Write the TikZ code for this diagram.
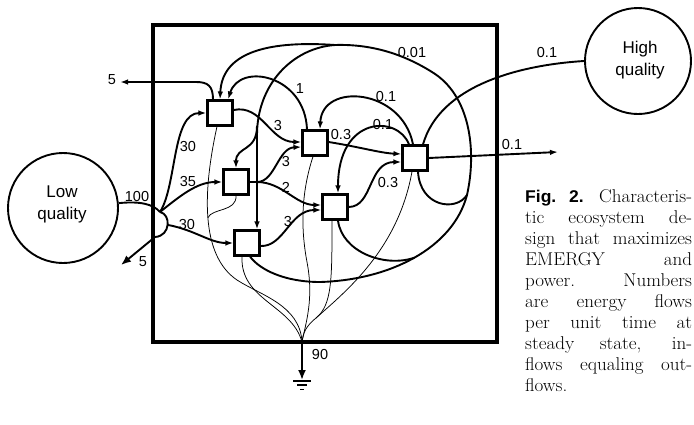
\documentclass[tikz,border=0pt]{standalone}
\usepackage{fontspec}
\usepackage{graphicx}
\newfontfamily\lsans{Liberation Sans}
\usetikzlibrary{arrows.meta}
\newcommand{\capline}[1]{\scalebox{1.03}[1]{\makebox[162pt][s]{#1}}}
\begin{document}
\begin{tikzpicture}[x=1pt,y=-1pt,
  flow/.style={line width=1.9pt},
  thinflow/.style={line width=0.75pt},
  arr/.style={-{Latex[length=8pt,width=5.5pt]}},
  bigarr/.style={-{Latex[length=10pt,width=8pt]}},
  box/.style={draw,line width=2.6pt,minimum size=24.5pt,inner sep=0pt},
  src/.style={draw,circle,line width=1.9pt,inner sep=0pt},
  srctext/.style={font=\lsans\fontsize{17}{22}\selectfont,align=center,inner sep=0pt},
  lab/.style={font=\lsans\fontsize{14.5}{14.5}\selectfont,inner sep=0pt},
  captext/.style={anchor=base west,inner sep=0pt,font=\fontsize{18.5}{21}\selectfont}]
\useasboundingbox (0,0) rectangle (694,424);

% frame
\draw[line width=3.6pt] (153,25) rectangle (497,342);

% sources
\node[src,minimum size=110pt] (Low) at (63,208) {};
\node[srctext] (LowT) at (62,204) {Low\\quality};
\node[src,minimum size=106pt] (HQ) at (638,61) {};
\node[srctext] (HQT) at (640,60) {High\\quality};

% units
\node[box] (A) at (220,113) {};
\node[box] (B) at (236,182) {};
\node[box] (C) at (247,243) {};
\node[box] (D) at (315,143) {};
\node[box] (E) at (335,207) {};
\node[box] (F) at (415,158) {};

% named coordinates
\coordinate (J) at (160,212);
\coordinate (L) at (155,237);
\coordinate (O5a) at (120,82);
\coordinate (O5b) at (121,265);
\coordinate (T) at (335,45);
\coordinate (V) at (257,135);
\coordinate (Vb) at (257,126);
\coordinate (Bj) at (257,182);
\coordinate (R) at (467,195);
\coordinate (M) at (320,282);
\coordinate (Fout) at (558,152);
\coordinate (S) at (302,342);
\coordinate (G) at (302,380);
\coordinate (Aa) at (237,280);
\coordinate (Dm) at (307,262);
\coordinate (Em) at (316,318);

% low quality inflow and split
\draw[flow] (Low.5) .. controls (140,201) and (153,204) .. (J);
\draw[flow] (J) .. controls (171,214) and (171,236) .. (L) coordinate[pos=0.5] (K);
\draw[flow,arr] (J) .. controls (177,185) and (172,113) .. (A.west);
\draw[flow,arr] (J) .. controls (180,196) and (197,182) .. (B.west);
\draw[flow,arr] (K) .. controls (195,230) and (210,243) .. (C.west);
\draw[flow,bigarr] (L) -- (O5b);

% export from A
\draw[flow,arr] ([xshift=-7pt]A.north) .. controls (213,86) and (208,82) .. (196,82) -- (O5a);

% D -> A feedback
\draw[flow,arr] ([xshift=-8pt]D.north) .. controls (305,75) and (240,62) .. ([xshift=8pt]A.north);

% big outer loop
\draw[flow] (R) .. controls (477,150) and (470,95) .. (432,72) .. controls (400,52) and (368,44) .. (T);
\draw[flow,arr] (T) .. controls (262,40) and (222,55) .. (A.north);
\draw[flow] (T) .. controls (292,48) and (257,85) .. (V);
\draw[flow,arr] (V) -- ([xshift=10pt]C.north);
\draw[flow,arr] (Vb) .. controls (257,152) and (236,146) .. (B.north);
\draw[flow] ([xshift=3pt]F.south) .. controls (420,207) and (456,212) .. (R);
\draw[flow] (R) .. controls (453,248) and (390,280) .. (M) coordinate[pos=0.5] (Q)
   .. controls (285,282) and (260,270) .. ([xshift=3pt]C.south);
\draw[flow] ([xshift=3pt]E.south) .. controls (342,252) and (385,268) .. (Q);

% internal flows
\draw[flow] (B.east) -- (Bj);
\draw[flow,arr] ([yshift=3pt]A.east) .. controls (262,104) and (270,142) .. ([yshift=1pt]D.west);
\draw[flow,arr] (Bj) .. controls (275,182) and (278,148) .. ([yshift=-4pt]D.west);
\draw[flow,arr] (Bj) .. controls (282,182) and (296,205) .. ([yshift=2pt]E.west);
\draw[flow,arr] ([yshift=-3pt]C.east) .. controls (284,247) and (290,210) .. ([yshift=-3pt]E.west);
\draw[flow,arr] ([yshift=1pt]D.east) .. controls (360,147) and (380,153) .. ([yshift=4pt]F.west);
\draw[flow,arr] (E.east) .. controls (373,207) and (368,162) .. ([yshift=-4pt]F.west);
\draw[flow,arr] ([xshift=-2pt]F.north) .. controls (402,88) and (322,82) .. ([xshift=5pt]D.north);
\draw[flow,arr] ([xshift=-6pt]F.north) .. controls (398,115) and (338,115) .. ([xshift=3pt]E.north);
\draw[flow] (HQ.west) .. controls (520,65) and (440,85) .. ([xshift=8pt]F.north);
\draw[flow,arr] (F.east) -- (Fout);

% thin lines to heat sink
\draw[thinflow] ([xshift=-3pt]A.south) .. controls (203,190) and (200,255) .. (Aa) coordinate[pos=0.5] (Bm)
   .. controls (260,295) and (300,305) .. (S);
\draw[thinflow] (B.south) .. controls (237,212) and (212,208) .. (Bm);
\draw[thinflow] ([xshift=-5pt]C.south) .. controls (240,300) and (292,305) .. (S);
\draw[thinflow] ([xshift=-2pt]D.south) .. controls (302,190) and (300,225) .. (Dm)
   .. controls (314,299) and (306,322) .. (S);
\draw[thinflow] ([xshift=-3pt]E.south) .. controls (332,280) and (332,305) .. (Em)
   .. controls (306,326) and (303,333) .. (S);
\draw[thinflow] ([xshift=-3pt]F.south) .. controls (398,250) and (345,292) .. (Em);

% heat sink
\draw[flow,bigarr] (S) -- (G);
\draw[line width=1.3pt] (293,381) -- (311,381);
\draw[line width=1.1pt] (297,385) -- (307,385);
\draw[line width=1pt] (300,389) -- (304,389);

% labels
\node[lab] (l5a) at (112,80) {5};
\node[lab] (l1) at (300,89) {1};
\node[lab] (l3a) at (278,126) {3};
\node[lab] (l30a) at (188,147) {30};
\node[lab] (l35) at (188,182) {35};
\node[lab] (l100) at (137,197) {100};
\node[lab] (l03a) at (341,135) {0.3};
\node[lab] (l3b) at (286,162) {3};
\node[lab] (l2) at (286,187) {2};
\node[lab] (l3c) at (288,222) {3};
\node[lab] (l30b) at (187,225) {30};
\node[lab] (l5b) at (143,262) {5};
\node[lab] (l90) at (320,355) {90};
\node[lab] (l001) at (412,53) {0.01};
\node[lab] (l01a) at (547,53) {0.1};
\node[lab] (l01b) at (386,97) {0.1};
\node[lab] (l01c) at (383,125) {0.1};
\node[lab] (l03b) at (388,183) {0.3};
\node[lab] (l01d) at (512,145) {0.1};

% caption
\node[captext] (c1) at (525,202) {\capline{{\lsans\bfseries\fontsize{17}{20}\selectfont Fig. 2.} Characteris-}};
\node[captext] (c2) at (525,223) {\capline{tic ecosystem de-}};
\node[captext] (c3) at (525,244) {\capline{sign that maximizes}};
\node[captext] (c4) at (525,265) {\capline{EMERGY and}};
\node[captext] (c5) at (525,286) {\capline{power. Numbers}};
\node[captext] (c6) at (525,307) {\capline{are energy flows}};
\node[captext] (c7) at (525,328) {\capline{per unit time at}};
\node[captext] (c8) at (525,349) {\capline{steady state, in-}};
\node[captext] (c9) at (525,370) {\capline{flows equaling out-}};
\node[captext] (c10) at (525,391) {\scalebox{1.03}[1]{flows.}};
\end{tikzpicture}
\end{document}
